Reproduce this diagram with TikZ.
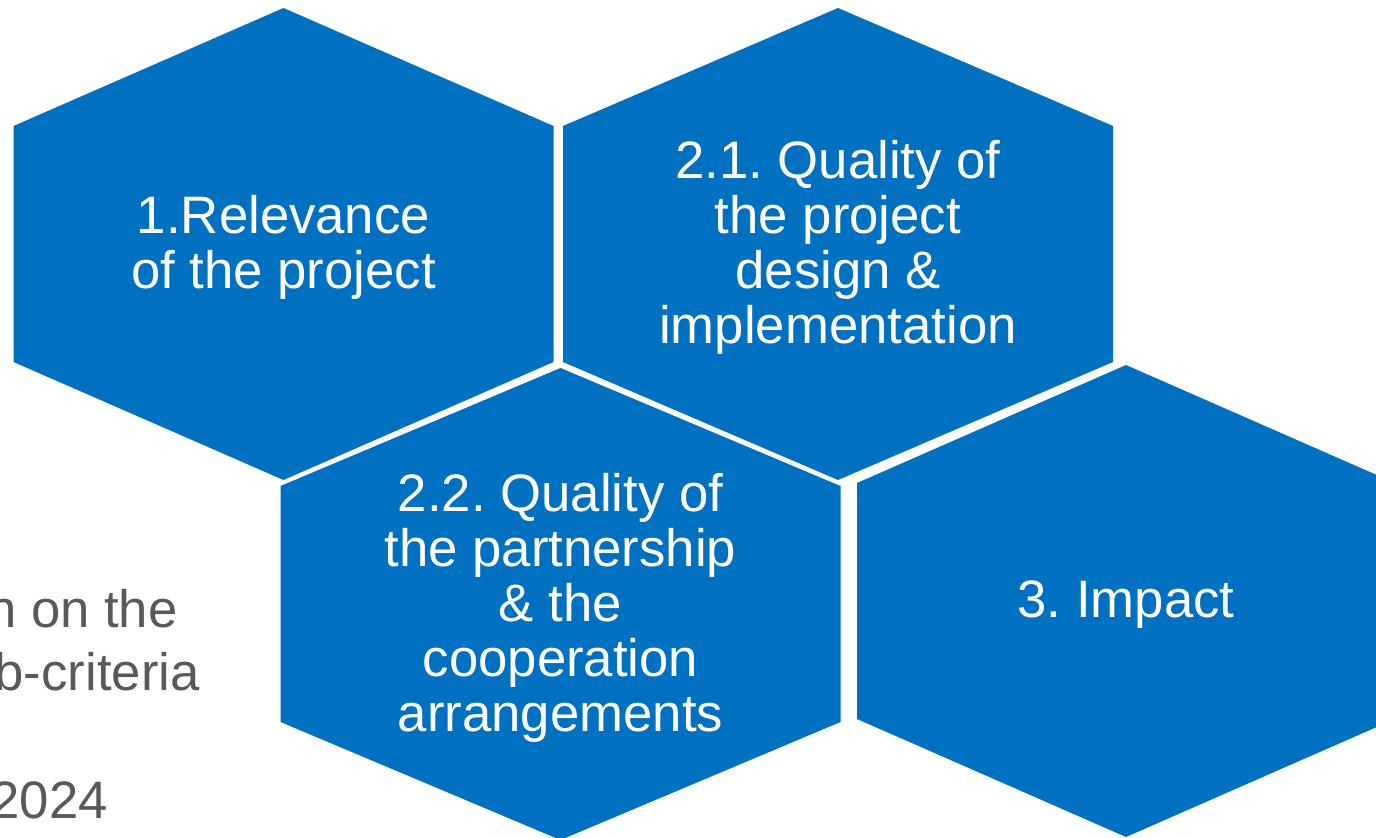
\documentclass[tikz,border=0pt]{standalone}
\usepackage{fontspec}
\setmainfont{Liberation Sans}
\usetikzlibrary{calc}
\frenchspacing
\definecolor{hexblue}{RGB}{0,112,192}
\definecolor{notegray}{RGB}{89,89,89}
\tikzset{
    hexcell/.style={fill=hexblue},
    hexlabel/.style={text=white, align=center, inner sep=0pt, yshift=-0.07cm,
        font=\fontsize{30}{31.3}\selectfont},
    notetext/.style={text=notegray, inner sep=0pt,
        font=\fontsize{30}{36.3}\selectfont},
}

\begin{document}
\begin{tikzpicture}[x=0.02cm, y=-0.02cm]
    \useasboundingbox (0,0) rectangle (1376,838);
    \clip (0,0) rectangle (1376,838);

    % cells: centre / half width / name
    \foreach \cx/\cy/\hw/\nm in {283.5/244/270/rel, 838/244/275/qual,
                                 560.5/604/280/part, 1126/601/269/imp}{
        \coordinate (\nm) at (\cx,\cy);
        \fill[hexcell] ($(\nm)+(0,-236)$) -- ++(\hw,118) -- ++(0,236)
            -- ++(-\hw,118) -- ++(-\hw,-118) -- ++(0,-236) -- cycle;
    }

    \node[hexlabel] (relT) at (rel) {1.Relevance\\of the project};
    \node[hexlabel] (qualT) at (qual) {2.1. Quality of\\the project\\design \&\\implementation};
    \node[hexlabel] (partT) at (part) {2.2. Quality of\\the partnership\\\& the\\cooperation\\arrangements};
    \node[hexlabel] (impT) at (imp) {3. Impact};

    % text cut at the left edge
    \node[notetext, anchor=base east] (noteA) at (178,627) {n on the};
    \node[notetext, anchor=base east] (noteB) at (200,690) {b-criteria};
    \node[notetext, anchor=base east] (noteC) at (108,818) {2024};
\end{tikzpicture}
\end{document}
